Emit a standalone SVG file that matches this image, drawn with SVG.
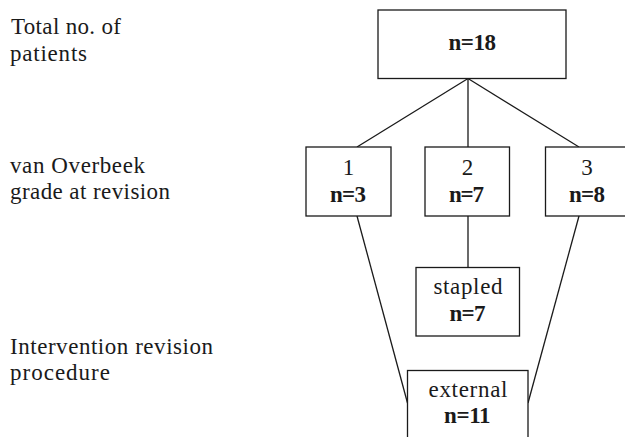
<svg xmlns="http://www.w3.org/2000/svg" width="625" height="437" viewBox="0 0 625 437">
<style>
.box{fill:#fff;stroke:#1a1a1a;stroke-width:1.3}
.ln{fill:none;stroke:#1a1a1a;stroke-width:1.3}
.t{font-family:'Liberation Serif','Times New Roman',serif;font-size:23px;fill:#1a1a1a}
.b{font-weight:bold}
</style>
<rect width="625" height="437" fill="#fff"/>
<g id="labels" class="t" font-size="23">
<text x="11" y="34" textLength="110" lengthAdjust="spacing">Total no. of</text>
<text x="10" y="61" textLength="77" lengthAdjust="spacing">patients</text>
<text x="10" y="173" textLength="135" lengthAdjust="spacing">van Overbeek</text>
<text x="10" y="199" textLength="160" lengthAdjust="spacing">grade at revision</text>
<text x="10" y="354" textLength="203" lengthAdjust="spacing">Intervention revision</text>
<text x="10" y="380" textLength="100" lengthAdjust="spacing">procedure</text>
</g>
<g id="connectors">
<line class="ln" x1="468" y1="78.5" x2="357" y2="147"/>
<line class="ln" x1="468" y1="78.5" x2="468" y2="147"/>
<line class="ln" x1="468" y1="78.5" x2="579" y2="147"/>
<line class="ln" x1="468" y1="216" x2="468" y2="267.5"/>
<line class="ln" x1="357" y1="216" x2="407.5" y2="403"/>
<line class="ln" x1="579" y1="216" x2="528" y2="403"/>
</g>
<g id="total" class="t">
<rect class="box" x="378" y="10" width="188" height="68.5"/>
<text class="b" x="448.5" y="50" textLength="47.5" lengthAdjust="spacing">n=18</text>
</g>
<g id="grade1" class="t">
<rect class="box" x="306" y="147" width="85" height="69"/>
<text x="348.5" y="175" text-anchor="middle">1</text>
<text class="b" x="330" y="201.5" textLength="36" lengthAdjust="spacing">n=3</text>
</g>
<g id="grade2" class="t">
<rect class="box" x="425" y="147" width="84.5" height="69"/>
<text x="467.5" y="175" text-anchor="middle">2</text>
<text class="b" x="449" y="201.5" textLength="35" lengthAdjust="spacing">n=7</text>
</g>
<g id="grade3" class="t">
<rect class="box" x="545.5" y="147" width="83.5" height="69"/>
<text x="587" y="175" text-anchor="middle">3</text>
<text class="b" x="569" y="201.5" textLength="36" lengthAdjust="spacing">n=8</text>
</g>
<g id="stapled" class="t">
<rect class="box" x="416" y="267.5" width="103.5" height="68.5"/>
<text x="433.5" y="294" textLength="69" lengthAdjust="spacing">stapled</text>
<text class="b" x="449.5" y="320.5" textLength="36" lengthAdjust="spacing">n=7</text>
</g>
<g id="external" class="t">
<rect class="box" x="407.5" y="370.5" width="120.5" height="75"/>
<text x="428.5" y="396.5" textLength="79" lengthAdjust="spacing">external</text>
<text class="b" x="444" y="423" textLength="46.5" lengthAdjust="spacing">n=11</text>
</g>
</svg>
